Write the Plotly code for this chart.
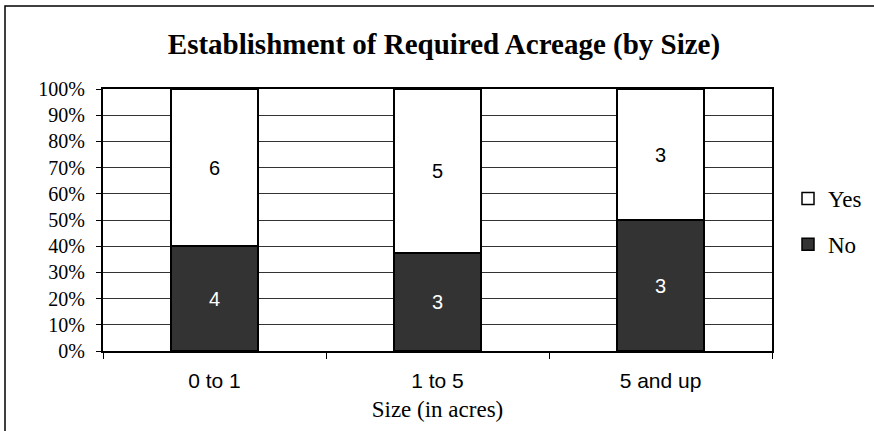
import plotly.graph_objects as go

# Survey counts per size class
categories = ["0 to 1", "1 to 5", "5 and up"]
no_counts = [4, 3, 3]
yes_counts = [6, 5, 3]

title_text = "Establishment of Required Acreage (by Size)"
x_title = "Size (in acres)"

SERIF = "Liberation Serif, Times New Roman, serif"
SANS = "Liberation Sans, Arial, sans-serif"

W, H = 874, 431
ML, MR, MT, MB = 103, 102, 89, 80
plot_w = W - ML - MR
plot_h = H - MT - MB

fig = go.Figure()
fig.add_trace(go.Bar(
    x=categories, y=no_counts, name="No", legendgroup="no", legendrank=2,
    marker=dict(color="#333333", line=dict(color="#000000", width=1.5)),
    text=no_counts, textposition="inside", insidetextanchor="middle",
    textangle=0, constraintext="none",
    textfont=dict(family=SANS, size=20, color="#ffffff"),
    hoverinfo="skip",
))
fig.add_trace(go.Bar(
    x=categories, y=yes_counts, name="Yes", legendgroup="yes", legendrank=1,
    marker=dict(color="#ffffff", line=dict(color="#000000", width=1.5)),
    text=yes_counts, textposition="inside", insidetextanchor="middle",
    textangle=0, constraintext="none",
    textfont=dict(family=SANS, size=20, color="#000000"),
    hoverinfo="skip",
))

# outer chart-area frame (open at right and bottom edges of the page)
def px_to_paper_x(px):
    return (px - ML) / plot_w

def px_to_paper_y(py):
    return (H - MB - py) / plot_h

fig.add_shape(
    type="rect", xref="paper", yref="paper",
    x0=px_to_paper_x(5), x1=px_to_paper_x(W + 10),
    y0=px_to_paper_y(H + 10), y1=px_to_paper_y(6),
    line=dict(color="#000000", width=1.5), fillcolor="rgba(0,0,0,0)",
    layer="below",
)

fig.update_layout(
    width=W, height=H,
    margin=dict(l=ML, r=MR, t=MT, b=MB, pad=0, autoexpand=False),
    paper_bgcolor="#ffffff", plot_bgcolor="#ffffff",
    barmode="stack", barnorm="percent", bargap=0.61,
    title=dict(
        text=title_text, x=444 / W, xanchor="center",
        y=1 - 44 / H, yanchor="middle", yref="container",
        font=dict(family=SERIF, size=29, color="#000000", weight="bold"),
    ),
    legend=dict(
        x=px_to_paper_x(788), xanchor="left",
        y=px_to_paper_y(221.5), yanchor="middle",
        traceorder="grouped", tracegroupgap=13,
        font=dict(family=SERIF, size=23, color="#000000"),
        bgcolor="rgba(0,0,0,0)", borderwidth=0,
    ),
    xaxis=dict(
        type="category", tickson="boundaries",
        ticks="outside", ticklen=6, tickwidth=1, tickcolor="#000000",
        ticklabelstandoff=10,
        showline=True, linecolor="#000000", linewidth=2, mirror=True,
        showgrid=False,
        tickfont=dict(family=SANS, size=21, color="#000000"),
        title=dict(text=x_title, standoff=10,
                   font=dict(family=SERIF, size=23, color="#000000")),
    ),
    yaxis=dict(
        range=[0, 100], dtick=10, ticksuffix="%",
        ticks="outside", ticklen=5, tickwidth=1, tickcolor="#000000",
        ticklabelstandoff=7,
        showline=True, linecolor="#000000", linewidth=2, mirror=True,
        showgrid=True, gridcolor="#333333", gridwidth=1,
        zeroline=False,
        tickfont=dict(family=SERIF, size=20, color="#000000"),
    ),
    showlegend=True,
)

fig.write_html("out.html")
